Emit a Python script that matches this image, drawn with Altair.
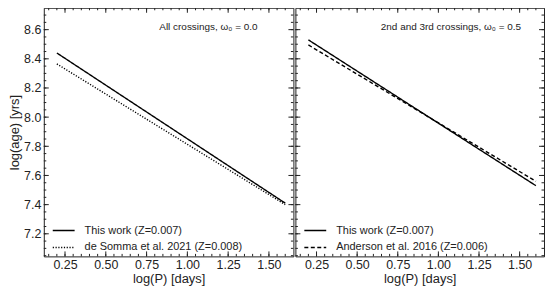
import altair as alt
import pandas as pd

# ---- data ----
logP_ends = [0.2, 1.6]
left_this = [8.44, 7.41]
left_desomma = [8.365, 7.40]
right_this = [8.53, 7.53]
right_anderson = [8.495, 7.56]

names_left = ["This work (Z=0.007)", "de Somma et al. 2021 (Z=0.008)"]
names_right = ["This work (Z=0.007)", "Anderson et al. 2016 (Z=0.006)"]
annot_left = "All crossings, ω₀ = 0.0"
annot_right = "2nd and 3rd crossings, ω₀ = 0.5"

x_major = [0.25, 0.50, 0.75, 1.00, 1.25, 1.50]
x_minor = [round(0.15 + 0.05 * i, 2) for i in range(30)]
y_major = [7.2, 7.4, 7.6, 7.8, 8.0, 8.2, 8.4, 8.6]
y_minor = [round(7.05 + 0.05 * i, 2) for i in range(34)]

XDOM = [0.12, 1.65]
YDOM = [7.045, 8.75]
H = 250
FONT = "Liberation Sans"
INK = "#222222"
MAJ, MIN = 5, 2.5


def panel(this_vals, other_vals, names, dashes, annot, W, show_y, annot_x):
    df = pd.DataFrame({
        "logP": logP_ends + logP_ends,
        "age": this_vals + other_vals,
        "series": [names[0]] * 2 + [names[1]] * 2,
    })
    xs = alt.Scale(domain=XDOM, nice=False, zero=False)
    ys = alt.Scale(domain=YDOM, nice=False, zero=False)
    yaxis = alt.Axis(values=y_major, format=".1f", title="log(age) [yrs]",
                     ticks=False, domain=False, grid=False, labelPadding=3,
                     titlePadding=2, labelFontSize=12.5, titleFontSize=13,
                     labelFont=FONT, titleFont=FONT, labelColor=INK,
                     titleColor=INK, titleFontWeight="normal") if show_y else None
    xaxis = alt.Axis(values=x_major, format=".2f", title="log(P) [days]",
                     ticks=False, domain=False, grid=False, labelPadding=2,
                     titlePadding=2, labelFontSize=12.5, titleFontSize=13,
                     labelFont=FONT, titleFont=FONT, labelColor=INK,
                     titleColor=INK, titleFontWeight="normal")
    lines = alt.Chart(df).mark_line(color="black", strokeWidth=1.4, clip=True).encode(
        x=alt.X("logP:Q", scale=xs, axis=xaxis),
        y=alt.Y("age:Q", scale=ys, axis=yaxis),
        strokeDash=alt.StrokeDash(
            "series:N", scale=alt.Scale(domain=names, range=dashes),
            legend=alt.Legend(title=None, orient="none", legendX=8, legendY=H - 38,
                              symbolType="stroke", symbolSize=484,
                              symbolStrokeColor="black", symbolStrokeWidth=1.4,
                              labelFont=FONT, labelFontSize=11, labelColor=INK,
                              labelOffset=9, rowPadding=-3, labelLimit=400)),
    )
    layers = [lines]
    for vals, L in [(x_major, MAJ), (x_minor, MIN)]:
        base = alt.Chart(pd.DataFrame({"v": vals})).mark_rule(color=INK, strokeWidth=1)
        layers.append(base.encode(x=alt.X("v:Q", scale=xs, axis=xaxis),
                                  y=alt.value(H), y2=alt.value(H - L)))
        layers.append(base.encode(x=alt.X("v:Q", scale=xs, axis=xaxis),
                                  y=alt.value(0), y2=alt.value(L)))
    for vals, L in [(y_major, MAJ), (y_minor, MIN)]:
        base = alt.Chart(pd.DataFrame({"v": vals})).mark_rule(color=INK, strokeWidth=1)
        layers.append(base.encode(y=alt.Y("v:Q", scale=ys, axis=yaxis),
                                  x=alt.value(0), x2=alt.value(L)))
        layers.append(base.encode(y=alt.Y("v:Q", scale=ys, axis=yaxis),
                                  x=alt.value(W), x2=alt.value(W - L)))
    txt = alt.Chart(pd.DataFrame({"t": [annot]})).mark_text(
        align="right", baseline="middle", font=FONT, fontSize=10, color=INK
    ).encode(text="t:N", x=alt.value(annot_x), y=alt.value(19))
    layers.append(txt)
    return alt.layer(*layers).properties(width=W, height=H)


left = panel(left_this, left_desomma, names_left, [[1, 0], [1.2, 1.6]],
             annot_left, 251, True, 215)
right = panel(right_this, right_anderson, names_right, [[1, 0], [4, 2.5]],
              annot_right, 250, False, 227)

chart = alt.hconcat(left, right, spacing=0).resolve_scale(
    x="independent", strokeDash="independent"
).properties(padding={"left": 0, "top": -2, "right": 0, "bottom": 0},
             background="white").configure_view(
    stroke=INK, strokeWidth=1
)

chart.save("out.html", embed_options={"renderer": "svg", "actions": False})
